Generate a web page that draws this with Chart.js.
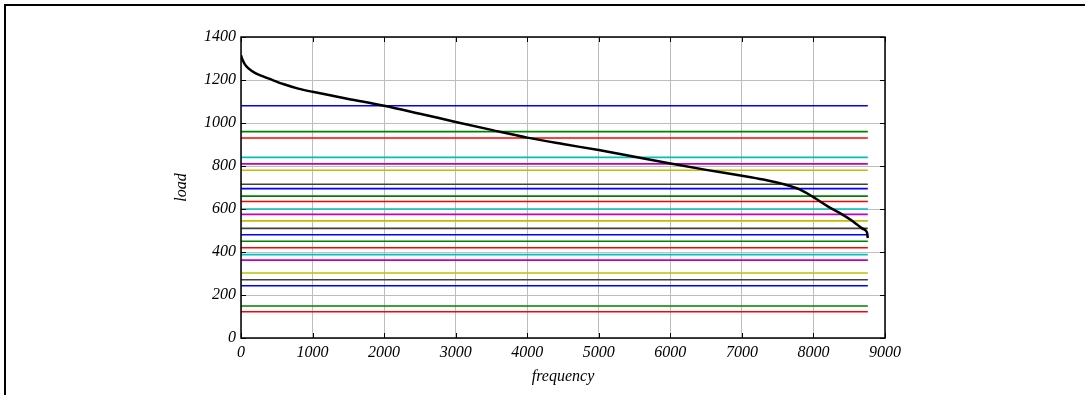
<!DOCTYPE html>
<html><head><meta charset="utf-8">
<script src="https://cdn.jsdelivr.net/npm/chart.js@4.4.0/dist/chart.umd.min.js"></script>
<style>html,body{margin:0;padding:0;background:#fff;} #wrap{width:1085px;height:395px;position:relative;}</style>
</head><body><div id="wrap"><canvas id="c" width="1085" height="395"></canvas></div>
<script>
// Load duration curve (hour index, load)
const hours = [0, 20, 50, 100, 200, 300, 400, 600, 800, 1000, 1500, 2000, 2500, 3000, 3500, 4000, 4500, 5000, 5500, 6000, 6500, 7000, 7300, 7600, 7800, 8000, 8200, 8400, 8540, 8620, 8680, 8730, 8750, 8760];
const loads = [1315, 1295, 1275, 1255, 1232, 1218, 1205, 1180, 1160, 1145, 1112, 1080, 1043, 1005, 968, 932, 902, 874, 843, 812, 782, 755, 737, 714, 692, 655, 612, 575, 545, 525, 510, 500, 488, 465];
// Horizontal levels (from top to bottom)
const levels = [1080, 960, 930, 840, 810, 780, 715, 695, 660, 635, 600, 575, 545, 510, 480, 450, 420, 388, 362, 302, 271, 243, 149, 122];
const levelSpan = [0, 8760];
const xTicks = [0, 1000, 2000, 3000, 4000, 5000, 6000, 7000, 8000, 9000];
const yTicks = [0, 200, 400, 600, 800, 1000, 1200, 1400];
const xTitle = 'frequency';
const yTitle = 'load';

const palette = ['#0000ff', '#008000', '#ff0000', '#00bfbf', '#bf00bf', '#bfbf00', '#404040'];
const FONT = 'italic 16px "Liberation Serif", "Times New Roman", serif';

const datasets = [];
datasets.push({
  data: hours.map((h, i) => ({x: h, y: loads[i]})),
  borderColor: '#000', borderWidth: 2.5, pointRadius: 0,
  cubicInterpolationMode: 'monotone', order: 0
});
levels.forEach((v, i) => {
  datasets.push({
    data: levelSpan.map(x => ({x: x, y: v})),
    borderColor: palette[i % palette.length], borderWidth: 1.6, pointRadius: 0, order: 1
  });
});

const extras = {
  id: 'extras',
  afterDraw(chart) {
    const ctx = chart.ctx, a = chart.chartArea;
    const xs = chart.scales.x, ys = chart.scales.y;
    ctx.save();
    ctx.strokeStyle = '#000';
    ctx.lineWidth = 1.5;
    ctx.beginPath();
    ctx.rect(a.left, a.top, a.right - a.left, a.bottom - a.top);
    ctx.stroke();
    ctx.lineWidth = 1;
    ctx.beginPath();
    const tl = 5;
    xTicks.forEach(t => {
      const px = Math.round(xs.getPixelForValue(t)) + 0.5;
      ctx.moveTo(px, a.bottom); ctx.lineTo(px, a.bottom - tl);
      ctx.moveTo(px, a.top); ctx.lineTo(px, a.top + tl);
    });
    yTicks.forEach(t => {
      const py = Math.round(ys.getPixelForValue(t)) + 0.5;
      ctx.moveTo(a.left, py); ctx.lineTo(a.left + tl, py);
      ctx.moveTo(a.right, py); ctx.lineTo(a.right - tl, py);
    });
    ctx.stroke();
    // outer frame
    ctx.lineWidth = 2;
    ctx.beginPath();
    ctx.moveTo(5, 395); ctx.lineTo(5, 5); ctx.lineTo(1085, 5);
    ctx.stroke();
    // titles
    ctx.fillStyle = '#000';
    ctx.font = FONT;
    ctx.textAlign = 'center';
    ctx.textBaseline = 'middle';
    ctx.fillText(xTitle, (a.left + a.right) / 2, 377);
    ctx.translate(182, (a.top + a.bottom) / 2);
    ctx.rotate(-Math.PI / 2);
    ctx.fillText(yTitle, 0, 0);
    ctx.restore();
  }
};

const tickFont = {family: '"Liberation Serif", "Times New Roman", serif', size: 16, style: 'italic'};
new Chart(document.getElementById('c'), {
  type: 'line',
  data: {datasets},
  options: {
    responsive: false, animation: false, devicePixelRatio: 1,
    layout: {padding: {left: 0, top: 37, right: 200, bottom: 0}},
    plugins: {legend: {display: false}, tooltip: {enabled: false}},
    scales: {
      x: {
        type: 'linear', min: 0, max: 9000,
        afterBuildTicks(s) { s.ticks = xTicks.map(v => ({value: v})); },
        afterFit(s) { s.height = 57; },
        ticks: {color: '#000', font: tickFont, padding: 5, maxRotation: 0, autoSkip: false, callback: v => String(v)},
        grid: {color: '#bdbdbd', lineWidth: 1, drawTicks: false},
        border: {display: false}
      },
      y: {
        type: 'linear', min: 0, max: 1400,
        afterBuildTicks(s) { s.ticks = yTicks.map(v => ({value: v})); },
        afterFit(s) { s.width = 241; },
        ticks: {color: '#000', font: tickFont, padding: 5, autoSkip: false, callback: v => String(v)},
        grid: {color: '#bdbdbd', lineWidth: 1, drawTicks: false},
        border: {display: false}
      }
    }
  },
  plugins: [extras]
});
</script>
</body></html>
